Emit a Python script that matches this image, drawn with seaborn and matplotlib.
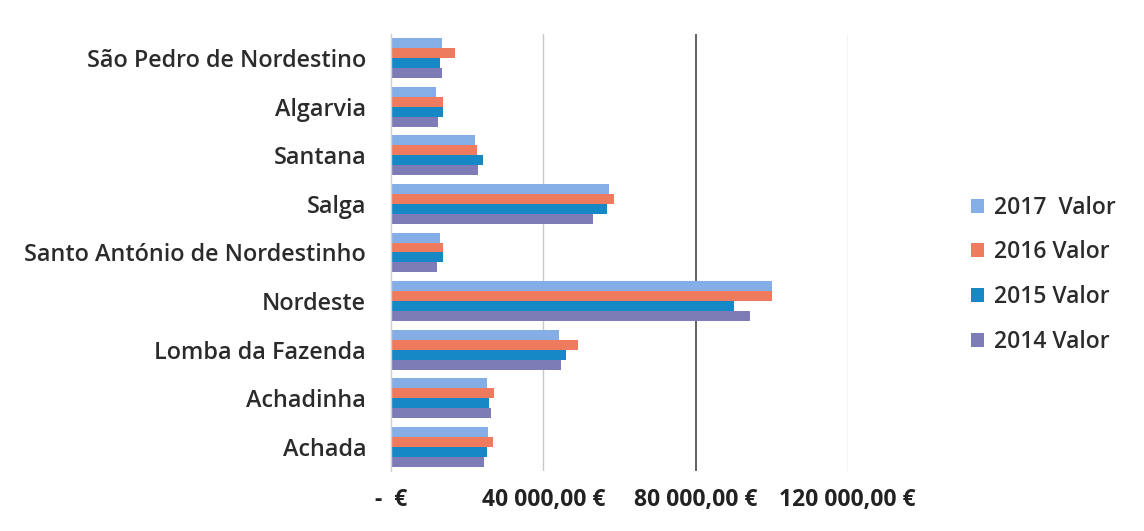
import matplotlib
matplotlib.use("Agg")
import matplotlib.pyplot as plt
import seaborn as sns
import pandas as pd
from matplotlib.ticker import FixedLocator, FixedFormatter

freguesias = [
    "São Pedro de Nordestino",
    "Algarvia",
    "Santana",
    "Salga",
    "Santo António de Nordestinho",
    "Nordeste",
    "Lomba da Fazenda",
    "Achadinha",
    "Achada",
]
series_names = ["2017  Valor", "2016 Valor", "2015 Valor", "2014 Valor"]
valor_2017 = [13400, 11800, 22000, 57200, 12900, 100000, 44100, 25200, 25500]
valor_2016 = [16800, 13600, 22500, 58500, 13600, 100000, 49100, 27000, 26800]
valor_2015 = [12900, 13600, 24200, 56700, 13600, 90000, 45900, 25700, 25200]
valor_2014 = [13400, 12300, 22800, 53100, 12100, 94200, 44600, 26200, 24400]
x_ticks = [0, 40000, 80000, 120000]
x_tick_labels = ["-  €", "40 000,00 €", "80 000,00 €", "120 000,00 €"]
colors = ["#86AEE6", "#EE7B5E", "#1688C6", "#7D7CB6"]

rows = []
for name, vals in zip(series_names, [valor_2017, valor_2016, valor_2015, valor_2014]):
    for f, v in zip(freguesias, vals):
        rows.append({"Freguesia": f, "Série": name, "Valor": v})
df = pd.DataFrame(rows)

sns.set_theme(style="white")
plt.rcParams["font.family"] = ["Open Sans", "DejaVu Sans"]

fig = plt.figure(figsize=(11.44, 5.31), dpi=100)
ax = fig.add_axes([0.342, 0.113, 0.399, 0.823])

sns.barplot(
    data=df, y="Freguesia", x="Valor", hue="Série",
    order=freguesias, hue_order=series_names, palette=colors,
    orient="h", width=0.82, saturation=1, linewidth=0, ax=ax, legend=True,
)

ax.set_xlim(0, 120000)
ax.set_xlabel("")
ax.set_ylabel("")
ax.xaxis.set_major_locator(FixedLocator(x_ticks))
ax.xaxis.set_major_formatter(FixedFormatter(x_tick_labels))
ax.tick_params(axis="x", length=0, pad=12, labelsize=16.5, labelcolor="#222222")
ax.tick_params(axis="y", length=0, pad=18, labelsize=16.8, labelcolor="#2b2b2b")
for lab in ax.get_xticklabels():
    lab.set_fontweight("bold")
for lab in ax.get_yticklabels():
    lab.set_fontweight("semibold")

# vertical gridlines
for xv in x_ticks[1:]:
    ax.axvline(xv, color="#555555" if xv == 80000 else "#C8C8C8",
               lw=1.3 if xv == 80000 else 1.0, zorder=0)
ax.set_axisbelow(True)

for side in ["top", "right", "bottom"]:
    ax.spines[side].set_visible(False)
ax.spines["left"].set_color("#D0D0D0")
ax.spines["left"].set_linewidth(1.0)

handles, labels = ax.get_legend_handles_labels()
ax.legend(
    handles, labels, loc="center left", bbox_to_anchor=(1.225, 0.449),
    frameon=False, handlelength=0.55, handleheight=0.55,
    labelspacing=0.9, handletextpad=0.45,
    prop={"size": 16.5, "weight": "semibold"},
)
for t in ax.get_legend().get_texts():
    t.set_color("#2b2b2b")

fig.savefig("out.png", dpi=100, facecolor="white")
